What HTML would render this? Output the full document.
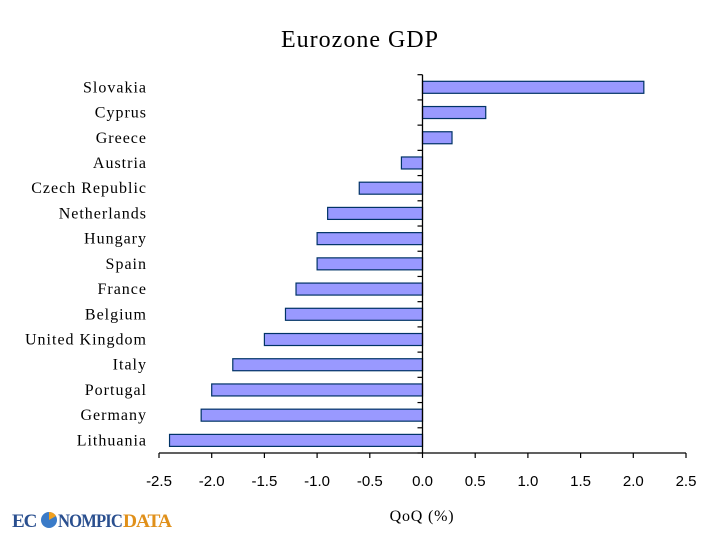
<!DOCTYPE html>
<html><head><meta charset="utf-8"><style>
body{margin:0;background:#fff;width:720px;height:540px;overflow:hidden}
svg text{font-family:"Liberation Serif",serif;fill:#000}
</style></head><body>
<svg id="c" width="720" height="540">
<text x="360" y="47" text-anchor="middle" font-size="24" letter-spacing="1">Eurozone GDP</text>
<g id="g"></g>
<text x="422" y="521" text-anchor="middle" font-size="16" letter-spacing="0.8">QoQ (%)</text>
<g>
<text x="12" y="527" font-size="19" font-weight="bold" style="fill:#2a4f8f;font-family:'Liberation Serif',serif" letter-spacing="-1">EC</text>
<circle cx="49" cy="520" r="8" fill="#3a7bc8"/>
<path d="M49 520 L49 512 A8 8 0 0 1 56 516 Z" fill="#f0a020"/>
<text x="58" y="527" font-size="19" font-weight="bold" style="fill:#2a4f8f;font-family:'Liberation Serif',serif" letter-spacing="-1" textLength="64" lengthAdjust="spacingAndGlyphs">NOMPIC</text>
<text x="123" y="527" font-size="19" font-weight="bold" style="fill:#e0901a;font-family:'Liberation Serif',serif" letter-spacing="-1" textLength="48" lengthAdjust="spacingAndGlyphs">DATA</text>
</g>
</svg>
<script>
const categories=["Slovakia","Cyprus","Greece","Austria","Czech Republic","Netherlands","Hungary","Spain","France","Belgium","United Kingdom","Italy","Portugal","Germany","Lithuania"];
const values=[2.1,0.6,0.28,-0.2,-0.6,-0.9,-1.0,-1.0,-1.2,-1.3,-1.5,-1.8,-2.0,-2.1,-2.4];
const xTicks=[-2.5,-2.0,-1.5,-1.0,-0.5,0.0,0.5,1.0,1.5,2.0,2.5];
const NS="http://www.w3.org/2000/svg",g=document.getElementById('g');
const plotTop=74.7,plotBot=453,L=159,R=686;
const x=v=>L+(v+2.5)/5*(R-L);
const band=(plotBot-plotTop)/categories.length;
const y=i=>plotTop+band*i;
function mk(t,a){const e=document.createElementNS(NS,t);for(const k in a)e.setAttribute(k,a[k]);g.appendChild(e);return e;}
categories.forEach((c,i)=>{
 const v=values[i],x0=x(0),x1=x(v);
 const b=mk('rect',{x:Math.min(x0,x1),y:y(i)+band/2-6,width:Math.abs(x1-x0),height:12,fill:'#9999ff',stroke:'#003366','stroke-width':1.2});
 
 
 const t=mk('text',{x:147,y:y(i)+band/2+5,'text-anchor':'end','font-size':16,'letter-spacing':1});
 t.textContent=c;
 
 
});
const ya=mk('line',{x1:x(0),x2:x(0),y1:plotTop,y2:plotBot,stroke:'#000','stroke-width':1.3});


for(let i=0;i<=categories.length;i++){mk('line',{x1:x(0)-5,x2:x(0),y1:y(i),y2:y(i),stroke:'#000','stroke-width':1.2});}
const xa=mk('line',{x1:L,x2:R,y1:plotBot,y2:plotBot,stroke:'#000','stroke-width':1.3});


xTicks.forEach(v=>{
 mk('line',{x1:x(v),x2:x(v),y1:plotBot,y2:plotBot+5,stroke:'#000','stroke-width':1.2});
 const t=mk('text',{x:x(v),y:486,'text-anchor':'middle','font-size':15,style:'font-family:"Liberation Sans",sans-serif'});
 t.textContent=v.toFixed(1);
 
 
});
</script>
</body></html>
